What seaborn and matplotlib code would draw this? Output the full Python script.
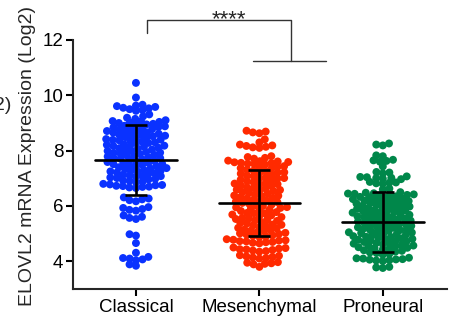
import numpy as np
import pandas as pd
import matplotlib.pyplot as plt
import seaborn as sns

groups = ['Classical', 'Mesenchymal', 'Proneural']
colors = ['#0a32ff', '#ff2a00', '#00874a']

# ELOVL2 expression (log2) per subtype
classical = [
    10.45, 9.92, 9.66, 9.63, 9.61, 9.58, 9.55, 9.53, 9.50, 9.47, 9.44, 9.31, 9.24, 9.19, 9.15,
    9.10, 9.07, 9.06, 9.04, 9.02, 9.00, 8.97, 8.95, 8.94, 8.90, 8.88,
    8.85, 8.84, 8.82, 8.80, 8.78, 8.77, 8.73, 8.71, 8.68, 8.66, 8.65,
    8.61, 8.60, 8.58, 8.57, 8.54, 8.52, 8.49, 8.47, 8.46, 8.42, 8.40,
    8.39, 8.37, 8.36, 8.33, 8.30, 8.28, 8.27, 8.23, 8.21, 8.18, 8.17,
    8.16, 8.14, 8.11, 8.09, 8.07, 8.04, 8.02, 7.99, 7.98, 7.95, 7.92,
    7.93, 7.90, 7.88, 7.85, 7.83, 7.80, 7.79, 7.76, 7.73, 7.71, 7.69,
    7.72, 7.66, 7.63, 7.62, 7.59, 7.56, 7.54, 7.52, 7.49, 7.47, 7.44,
    7.51, 7.43, 7.40, 7.37, 7.35, 7.33, 7.30, 7.28, 7.25, 7.24, 7.21,
    7.29, 7.18, 7.16, 7.13, 7.11, 7.08, 7.06, 7.03, 7.01, 6.98, 6.96,
    7.07, 6.93, 6.91, 6.88, 6.86,
    6.80, 6.78, 6.76, 6.75, 6.73, 6.72, 6.70, 6.69, 6.67, 6.65,
    6.31, 6.27, 6.24, 6.21, 6.17, 5.96, 5.93, 5.89, 5.86, 5.83,
    5.66, 5.61, 5.57, 5.53, 4.98, 4.93, 4.66, 4.31,
    4.16, 4.12, 4.10, 4.07, 4.04, 3.89, 3.84,
]
mesenchymal = [
    8.72, 8.69, 8.66, 8.63, 8.41, 8.30, 8.22, 8.19, 8.17, 8.14, 8.12, 8.10,
    7.80, 7.77, 7.74, 7.71,
    7.64, 7.62, 7.61, 7.59, 7.58, 7.56, 7.55, 7.53, 7.52, 7.50,
    7.44, 7.42, 7.40, 7.37, 7.35, 7.31, 7.28, 7.26, 7.22, 7.21, 7.19, 7.17,
    7.13, 7.10, 7.08, 7.04, 7.01, 7.00, 6.99, 6.95, 6.92, 6.90, 6.86,
    6.83, 6.81, 6.79, 6.77, 6.74, 6.72, 6.68, 6.65, 6.63, 6.59, 6.58, 6.56,
    6.54, 6.50, 6.47, 6.45, 6.41, 6.38, 6.37, 6.36, 6.32, 6.29, 6.27,
    6.23, 6.20, 6.18, 6.16, 6.14, 6.11, 6.09, 6.05, 6.02, 6.00, 5.96, 5.95,
    5.93, 5.91, 5.87, 5.84, 5.82, 5.78, 5.75, 5.74, 5.73, 5.69, 5.66,
    5.64, 5.60, 5.57, 5.55, 5.53, 5.51, 5.48, 5.46, 5.42, 5.39, 5.37,
    5.33, 5.32, 5.30, 5.28, 5.24, 5.21, 5.19, 5.15, 5.12, 5.11, 5.10, 5.06,
    5.03, 5.01, 4.99, 4.97, 4.94, 4.92, 4.90, 4.88,
    4.80, 4.78, 4.76, 4.75, 4.73, 4.72, 4.70, 4.69, 4.67, 4.65,
    4.50, 4.48, 4.46, 4.44, 4.43, 4.41, 4.39, 4.37, 4.35,
    4.22, 4.20, 4.18, 4.16, 4.14, 4.12, 4.10,
    3.97, 3.95, 3.93, 3.91, 3.89, 3.80,
]
proneural = [
    8.26, 8.22, 8.19, 7.83, 7.80, 7.67, 7.65, 7.63, 7.60, 7.43,
    7.23, 7.21, 7.18, 7.07, 7.05, 7.04, 7.02, 7.01, 6.99, 6.97,
    6.87, 6.85, 6.84, 6.82, 6.80, 6.63, 6.60,
    6.50, 6.48, 6.46, 6.45, 6.44, 6.43, 6.42, 6.40, 6.38,
    6.35, 6.33, 6.32, 6.30, 6.27, 6.25, 6.24, 6.22, 6.19, 6.18, 6.16, 6.14, 6.11,
    6.09, 6.08, 6.06, 6.03, 6.01, 6.00, 5.98, 5.95, 5.93, 5.92, 5.90, 5.87, 5.85, 5.84,
    5.82, 5.79, 5.77, 5.76, 5.74, 5.71, 5.69, 5.68, 5.66, 5.63, 5.61, 5.60, 5.58,
    5.55, 5.53, 5.52, 5.50, 5.47, 5.45, 5.44, 5.42, 5.39, 5.37, 5.36, 5.34, 5.31,
    5.29, 5.28, 5.26, 5.23, 5.21, 5.20, 5.18, 5.15, 5.13, 5.12, 5.10, 5.07, 5.05, 5.04,
    5.02, 4.99, 4.97, 4.96, 4.94, 4.91, 4.89, 4.88, 4.86, 4.83, 4.81, 4.80, 4.78,
    4.75, 4.73, 4.72, 4.70, 4.67, 4.65, 4.64, 4.62, 4.59, 4.57, 4.56, 4.54, 4.51,
    4.49, 4.48, 4.46, 4.43, 4.40, 4.38, 4.35, 4.32, 4.30, 4.27, 4.24,
    4.13, 4.11, 4.10, 4.08, 4.07, 4.06, 4.04, 4.03, 4.01,
    3.80, 3.78, 3.76,
]

# mean and SD as drawn on the chart
means = [7.67, 6.11, 5.42]
sds = [1.26, 1.19, 1.07]

sns.set_style('ticks')
plt.rcParams['font.family'] = ['Liberation Sans', 'DejaVu Sans']

df = pd.DataFrame({
    'group': ['Classical'] * len(classical) + ['Mesenchymal'] * len(mesenchymal) + ['Proneural'] * len(proneural),
    'value': classical + mesenchymal + proneural,
})

fig = plt.figure(figsize=(4.54, 3.25), dpi=100)
ax = fig.add_axes([73 / 454, 1 - 289 / 325, 374 / 454, 249 / 325])

sns.swarmplot(data=df, x='group', y='value', hue='group', order=groups,
              palette=colors, size=4.6, legend=False, ax=ax)

# lay the swarm out with small dots, then draw them a bit bigger so they overlap (Prism look)
fig.canvas.draw()
for coll in ax.collections:
    if 'draw' in vars(coll):
        del coll.draw
    coll.set_sizes([5.7 ** 2])

for i, (m, s) in enumerate(zip(means, sds)):
    ax.plot([i - 0.33, i + 0.33], [m, m], color='black', lw=1.9, zorder=5)
    ax.errorbar(i, m, yerr=s, fmt='none', ecolor='black', elinewidth=1.9,
                capsize=8, capthick=1.9, zorder=5)

# significance bracket
ax.plot([0.09, 0.09, 1.255, 1.255], [12.25, 12.73, 12.73, 11.24],
        color='#333333', lw=1, clip_on=False)
ax.plot([0.947, 1.54], [11.24, 11.24], color='#333333', lw=1, clip_on=False)
ax.text(0.75, 12.55, '****', ha='center', va='baseline', fontsize=16)

ax.set_xlim(-0.51, 2.52)
ax.set_ylim(3, 12)
ax.set_yticks([4, 6, 8, 10, 12])
ax.set_xlabel('')
ax.set_ylabel('ELOVL2 mRNA Expression (Log2)', fontsize=14)
ax.yaxis.set_label_coords(-0.1, 0.534)
sns.despine(ax=ax)
for side in ['left', 'bottom']:
    ax.spines[side].set_linewidth(1.5)
ax.tick_params(length=5, width=1.5, labelsize=13.5, pad=2, colors='black')

fig.text(11 / 454, 1 - 105 / 325, '2)', ha='right', va='center', fontsize=14)

fig.savefig('out.png', dpi=100)
